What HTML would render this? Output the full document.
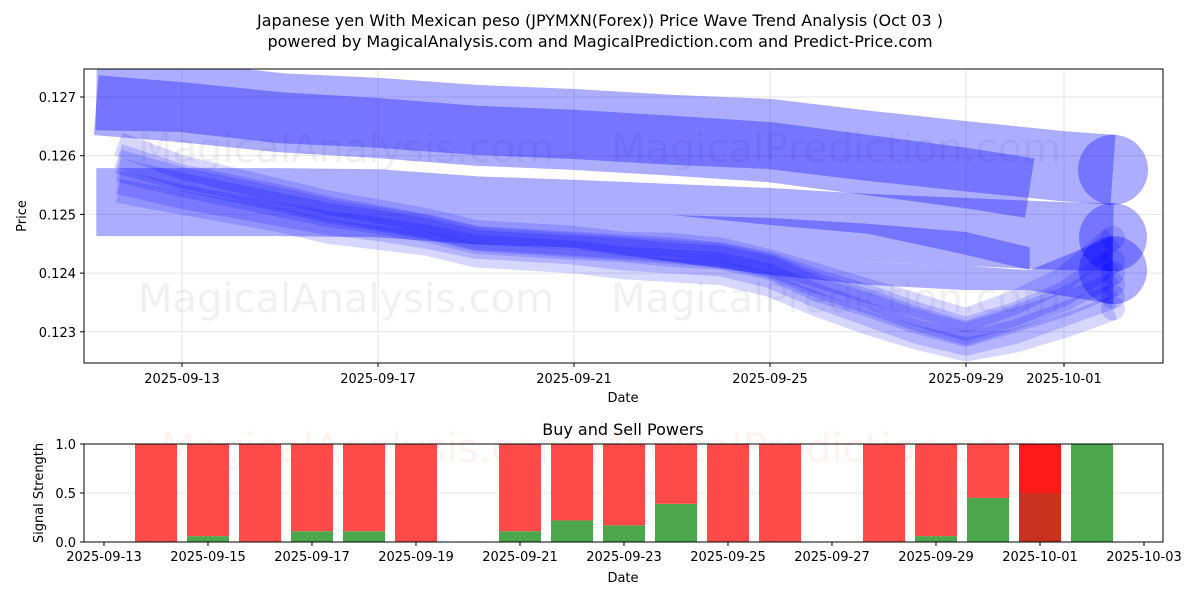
<!DOCTYPE html>
<html><head><meta charset="utf-8"><style>
body{margin:0;background:#fff;}
svg{display:block;font-family:"DejaVu Sans","Liberation Sans",sans-serif;}
</style></head><body>
<svg id="chart" width="1200" height="600" viewBox="0 0 1200 600">
<text x="600" y="26" text-anchor="middle" font-size="16">Japanese yen With Mexican peso (JPYMXN(Forex)) Price Wave Trend Analysis (Oct 03 )</text>
<text x="600" y="47" text-anchor="middle" font-size="16">powered by MagicalAnalysis.com and MagicalPrediction.com and Predict-Price.com</text>
<g id="topPanel"></g>
<g id="botPanel"></g>
</svg>
<script>
// ---- top chart data (days relative to 2025-09-13) ----
const dayTicks = [0, 4, 8, 12, 16, 18];
const dayTickLabels = ["2025-09-13","2025-09-17","2025-09-21","2025-09-25","2025-09-29","2025-10-01"];
const priceTicks = [0.123, 0.124, 0.125, 0.126, 0.127];
const wideDays = [-1.75, 0, 2, 4, 6, 8, 10, 12, 14, 16, 18, 19];
const wide1 = [0.12703, 0.12700, 0.12681, 0.12673, 0.12661, 0.12654, 0.12644, 0.12637, 0.12617, 0.12599, 0.12582, 0.12576];
const wide1bDays = [-1.75, 0, 2, 4, 6, 8, 10, 12, 14, 16, 17.3];
const wide1b = [0.12686, 0.12674, 0.12657, 0.12647, 0.12634, 0.12627, 0.12617, 0.12606, 0.12584, 0.12562, 0.12545];
const wide2 = [0.12521, 0.12521, 0.12521, 0.12519, 0.12507, 0.12501, 0.12494, 0.12487, 0.12477, 0.12470, 0.12463, 0.12461];
const stripeDays = [10, 12, 14, 16, 17.3];
const stripeTop = [0.12499, 0.12494, 0.12484, 0.12470, 0.12444];
const stripeBottom = [0.12499, 0.12482, 0.12467, 0.12431, 0.12405];
const lowDays = [8, 10, 12, 14, 16, 17.3, 19];
const lowTop = [0.12443, 0.12436, 0.12429, 0.12419, 0.12412, 0.12405, 0.12463];
const lowBottom = [0.12443, 0.12419, 0.12397, 0.12380, 0.12371, 0.12371, 0.12347];
const clusterDays = [-1.3, 0, 2, 3, 4, 5, 6, 8, 9, 10, 11, 12, 13, 14, 15, 16, 17, 18, 19];
const clusterA = [0.12576,0.12550,0.12516,0.12499,0.12487,0.12473,0.12453,0.12443,0.12439,0.12431,0.12426,0.12409,0.12371,0.12346,0.12317,0.12295,0.12320,0.12346,0.12380];
const clusterB = [0.12600,0.12565,0.12530,0.12510,0.12495,0.12480,0.12460,0.12450,0.12445,0.12440,0.12432,0.12415,0.12385,0.12360,0.12330,0.12305,0.12330,0.12365,0.12420];
const clusterC = [0.12555,0.12530,0.12500,0.12485,0.12475,0.12462,0.12445,0.12435,0.12425,0.12420,0.12415,0.12395,0.12360,0.12330,0.12300,0.12280,0.12300,0.12330,0.12360];
const clusterD = [0.12620,0.12580,0.12540,0.12520,0.12505,0.12490,0.12470,0.12460,0.12450,0.12448,0.12440,0.12420,0.12395,0.12370,0.12345,0.12320,0.12350,0.12390,0.12460];
const clusterE = [0.12540,0.12520,0.12490,0.12470,0.12460,0.12450,0.12430,0.12420,0.12410,0.12405,0.12400,0.12380,0.12345,0.12315,0.12290,0.12270,0.12285,0.12310,0.12340];
const clusterF = [0.12590,0.12560,0.12525,0.12505,0.12492,0.12478,0.12458,0.12447,0.12442,0.12436,0.12430,0.12412,0.12378,0.12352,0.12322,0.12298,0.12325,0.12355,0.12400];

// ---- bottom chart data (days relative to 2025-09-13) ----
const barDays = [1,2,3,4,5,6,8,9,10,11,12,13,15,16,17,18,19];
const buyPower = [0,0.06,0,0.11,0.11,0,0.11,0.22,0.17,0.39,0,0,0,0.06,0.45,0.5,1.0];
const sellPower = [1,0.94,1,0.89,0.89,1,0.89,0.78,0.83,0.61,1,1,1,0.94,0.55,0.5,0];
const botTicks = [0,2,4,6,8,10,12,14,16,18,20];
const botTickLabels = ["2025-09-13","2025-09-15","2025-09-17","2025-09-19","2025-09-21","2025-09-23","2025-09-25","2025-09-27","2025-09-29","2025-10-01","2025-10-03"];
const strengthTicks = [0, 0.5, 1.0];
const strengthLabels = ["0.0","0.5","1.0"];

const NS = "http://www.w3.org/2000/svg";
function mk(tag, attrs, parent){const e=document.createElementNS(NS,tag);for(const k in attrs)e.setAttribute(k,attrs[k]);parent.appendChild(e);return e;}

const T={l:84,r:1163,t:69,b:363};
const xT = d => 182 + d*49;
const yT = v => 97 + (0.127 - v)*58700;
const topG = document.getElementById('topPanel');
const defs = mk('defs',{},topG);
const cp = mk('clipPath',{id:'clipTop'},defs);
mk('rect',{x:T.l,y:T.t,width:T.r-T.l,height:T.b-T.t},cp);

dayTicks.forEach((d,i)=>{
  const g=mk('line',{x1:xT(d),x2:xT(d),y1:T.t,y2:T.b,stroke:'#e3e3e3','stroke-width':1},topG);
  
  
  mk('line',{x1:xT(d),x2:xT(d),y1:T.b,y2:T.b+4,stroke:'#000'},topG);
  const t=mk('text',{x:xT(d),y:T.b+20,'text-anchor':'middle','font-size':13},topG);
  t.textContent=dayTickLabels[i];
  
  
});
priceTicks.forEach(v=>{
  const g=mk('line',{x1:T.l,x2:T.r,y1:yT(v),y2:yT(v),stroke:'#e3e3e3','stroke-width':1},topG);
  
  
  mk('line',{x1:T.l-4,x2:T.l,y1:yT(v),y2:yT(v),stroke:'#000'},topG);
  const t=mk('text',{x:T.l-8,y:yT(v)+5,'text-anchor':'end','font-size':13},topG);
  t.textContent=v.toFixed(3);
  
  
});
[[346,148,'MagicalAnalysis.com'],[836,148,'MagicalPrediction.com'],[346,298,'MagicalAnalysis.com'],[836,298,'MagicalPrediction.com']].forEach(w=>{
  const t=mk('text',{x:w[0],y:w[1]+14,'text-anchor':'middle','font-size':40,fill:'#000','fill-opacity':0.06},topG);
  t.textContent=w[2];
  
  
});
const plotG = mk('g',{'clip-path':'url(#clipTop)'},topG);
function wave(days, vals, width, op, name, cap){
  const pts=days.map((d,i)=>xT(d)+','+yT(vals[i])).join(' ');
  const p=mk('polyline',{points:pts,fill:'none',stroke:'#0000ff','stroke-opacity':op,'stroke-width':width,'stroke-linejoin':'round','stroke-linecap':'butt'},plotG);
  
  
  if(cap){
    const n=days.length-1;
    const c=mk('circle',{cx:xT(days[n]),cy:yT(vals[n]),r:width/2,fill:'#0000ff','fill-opacity':op},plotG);
    
    
  }
}
function band(days, topV, botV, op, name){
  const up=days.map((d,i)=>xT(d)+','+yT(topV[i]));
  const dn=days.map((d,i)=>xT(d)+','+yT(botV[i])).reverse();
  const p=mk('polygon',{points:up.concat(dn).join(' '),fill:'#0000ff','fill-opacity':op},plotG);
  
  
}
wave(wideDays, wide1, 70, 0.32, 'wave-upper', true);
wave(wide1bDays, wide1b, 60, 0.32, 'wave-upper-overlap', false);
wave(wideDays, wide2, 68, 0.32, 'wave-middle', true);
band(stripeDays, stripeTop, stripeBottom, 0.32, 'wave-middle-overlap');
band(lowDays, lowTop, lowBottom, 0.32, 'wave-lower');
const lc=mk('circle',{cx:xT(19),cy:yT(0.12405),r:34,fill:'#0000ff','fill-opacity':0.32},plotG);


[clusterA,clusterB,clusterC,clusterD,clusterE,clusterF].forEach((c,i)=>wave(clusterDays,c,24,0.16,'wave-cluster-'+i,true));
mk('rect',{x:T.l,y:T.t,width:T.r-T.l,height:T.b-T.t,fill:'none',stroke:'#000','stroke-width':1},topG);
let t1=mk('text',{x:623,y:402,'text-anchor':'middle','font-size':13},topG);t1.textContent='Date';

let t2=mk('text',{x:26,y:216,'text-anchor':'middle','font-size':13,transform:'rotate(-90 26 216)'},topG);t2.textContent='Price';


const B={l:84,r:1163,t:444,b:542};
const xB = d => 104 + d*52;
const yB = v => 542 - v*98;
const botG=document.getElementById('botPanel');
let bt=mk('text',{x:623,y:435,'text-anchor':'middle','font-size':16},botG);bt.textContent='Buy and Sell Powers';

const wm=mk('text',{x:600,y:462,'text-anchor':'middle','font-size':40,fill:'#ff0000','fill-opacity':0.05},botG);
wm.textContent='MagicalAnalysis.com    MagicalPrediction.com';

strengthTicks.forEach((v,i)=>{
  const g=mk('line',{x1:B.l,x2:B.r,y1:yB(v),y2:yB(v),stroke:'#e3e3e3'},botG);
  
  mk('line',{x1:B.l-4,x2:B.l,y1:yB(v),y2:yB(v),stroke:'#000'},botG);
  const t=mk('text',{x:B.l-8,y:yB(v)+5,'text-anchor':'end','font-size':13},botG);t.textContent=strengthLabels[i];
  
});
barDays.forEach((d,i)=>{
  const x=xB(d)-21;
  const special = Math.abs(buyPower[i]-0.5)<1e-9 && Math.abs(sellPower[i]-0.5)<1e-9;
  const g=mk('rect',{x:x,y:yB(buyPower[i]),width:42,height:yB(0)-yB(buyPower[i]),fill:special?'#c8321e':'#4ca64c'},botG);
  
  const r=mk('rect',{x:x,y:yB(buyPower[i]+sellPower[i]),width:42,height:yB(buyPower[i])-yB(buyPower[i]+sellPower[i]),fill:special?'#ff1a1a':'#ff4a4a'},botG);
  
});
botTicks.forEach((d,i)=>{
  mk('line',{x1:xB(d),x2:xB(d),y1:B.b,y2:B.b+4,stroke:'#000'},botG);
  const t=mk('text',{x:xB(d),y:B.b+19,'text-anchor':'middle','font-size':13},botG);t.textContent=botTickLabels[i];
  
});
mk('rect',{x:B.l,y:B.t,width:B.r-B.l,height:B.b-B.t,fill:'none',stroke:'#000'},botG);
let t3=mk('text',{x:623,y:582,'text-anchor':'middle','font-size':13},botG);t3.textContent='Date';

let t4=mk('text',{x:43,y:493,'text-anchor':'middle','font-size':13,transform:'rotate(-90 43 493)'},botG);t4.textContent='Signal Strength';

</script>
</body></html>
